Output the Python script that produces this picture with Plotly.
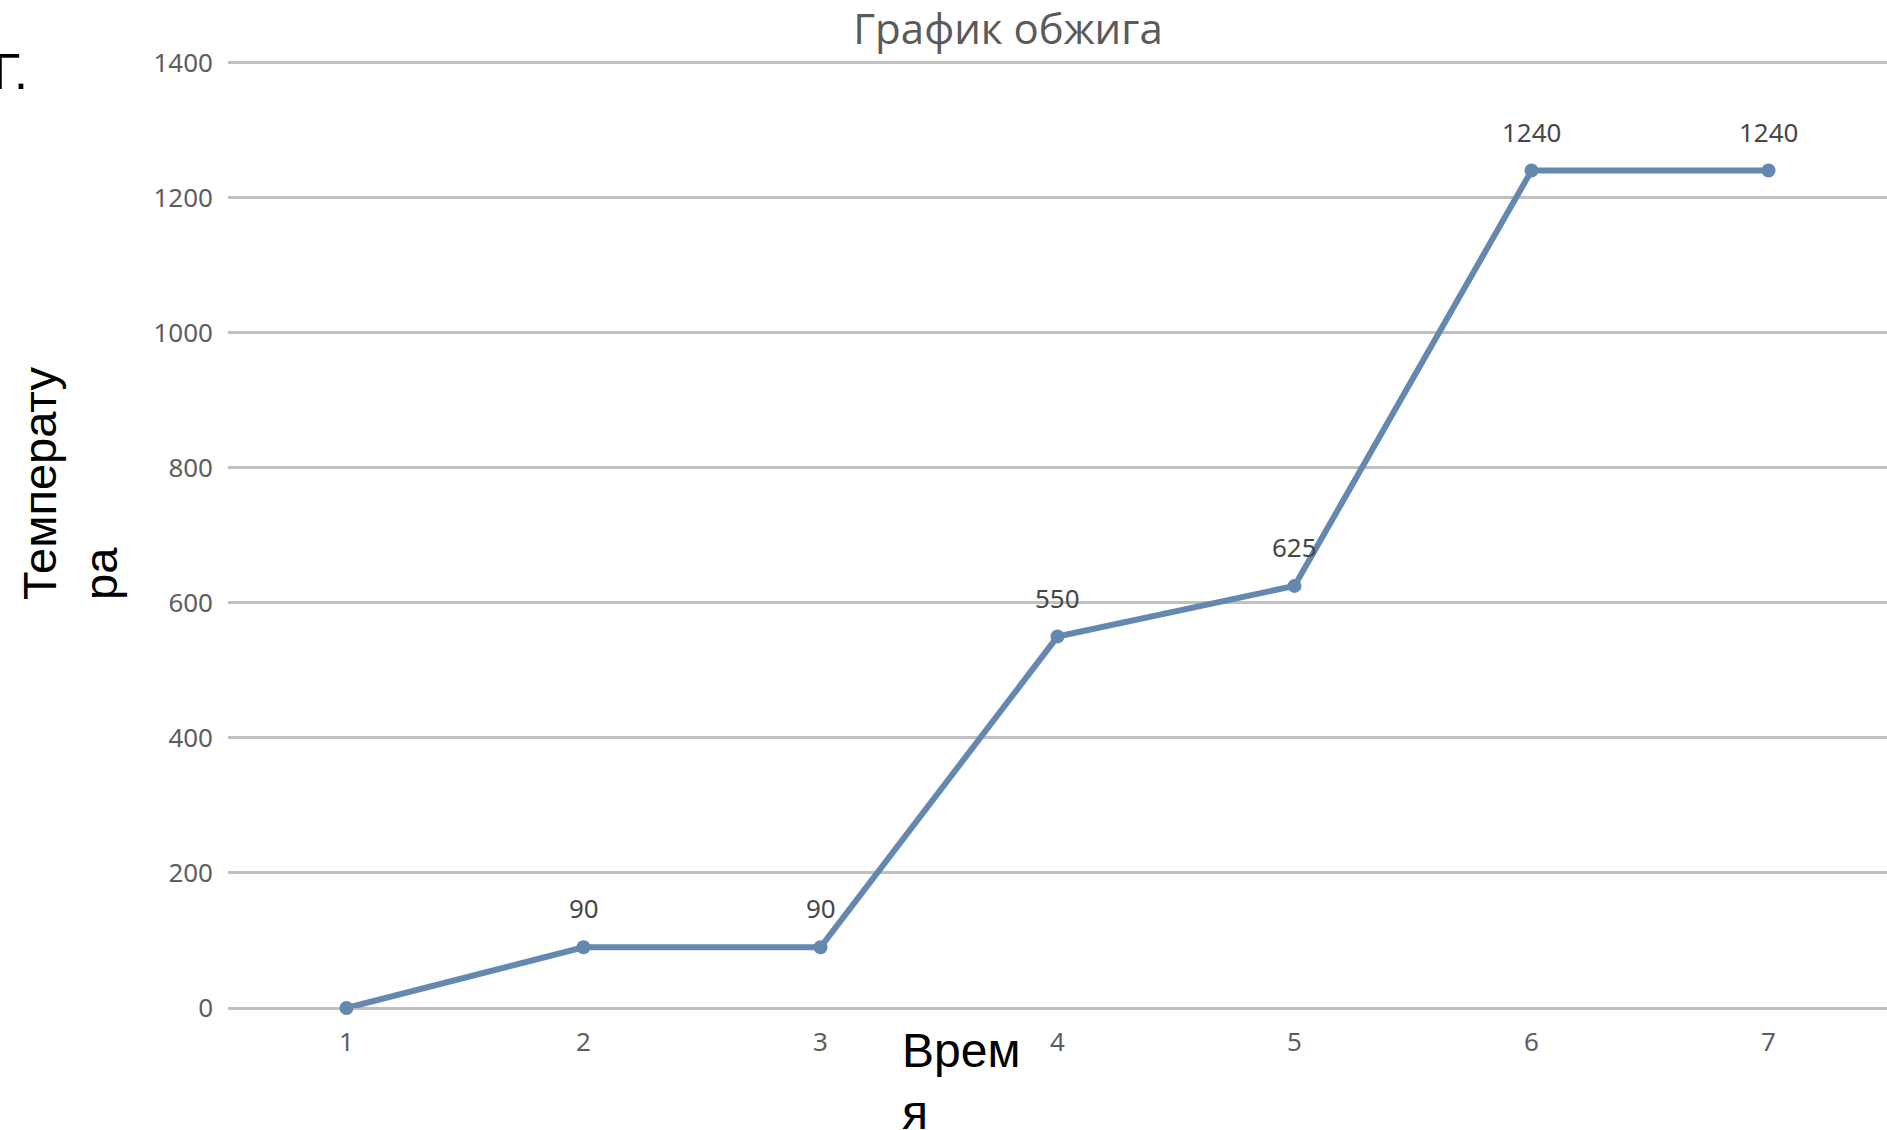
import plotly.graph_objects as go

# Firing schedule: time step vs kiln temperature
time_steps = [1, 2, 3, 4, 5, 6, 7]
temperatures = [0, 90, 90, 550, 625, 1240, 1240]
y_ticks = [0, 200, 400, 600, 800, 1000, 1200, 1400]

W, H = 1887, 1130
L, R, T, B = 228, 0, 49, 122
PW, PH = W - L - R, H - T - B
Y_TOP = 1420  # a little headroom so the 1400 gridline is drawn


def px_x(x):
    return (x - L) / PW


def px_y(y):
    return (H - B - y) / PH


LINE_BLUE = "#6488B0"
GRID = "#C0C0C0"
TICK_FONT = dict(family="Noto Sans", size=26, color="#5E5E5E")

fig = go.Figure()
fig.add_trace(go.Scatter(
    x=time_steps, y=temperatures, mode="lines+markers",
    line=dict(color=LINE_BLUE, width=6),
    marker=dict(size=14, color=LINE_BLUE),
    cliponaxis=False, showlegend=False, hoverinfo="x+y",
))

# value labels above each point
for x, y in zip(time_steps[1:], temperatures[1:]):
    fig.add_annotation(
        x=x, y=y, text=str(y), showarrow=False, yshift=39,
        font=dict(family="Noto Sans", size=26, color="#474747"),
    )

# axis titles (wrapped as in the worksheet)
fig.add_annotation(
    xref="paper", yref="paper", x=px_x(70), y=px_y(484),
    text="Температу<br>ра", textangle=-90, showarrow=False, align="left",
    xanchor="center", yanchor="middle",
    font=dict(family="Liberation Sans", size=47, color="#000000"),
)
fig.add_annotation(
    xref="paper", yref="paper", x=px_x(900), y=px_y(1022),
    text="Врем<br>я", showarrow=False, align="left",
    xanchor="left", yanchor="top",
    font=dict(family="Liberation Sans", size=48, color="#000000"),
)
fig.add_annotation(
    xref="paper", yref="paper", x=px_x(-9), y=px_y(42),
    text="Г.", showarrow=False, align="left",
    xanchor="left", yanchor="top",
    font=dict(family="Liberation Sans", size=50, color="#000000"),
)

fig.update_layout(
    width=W, height=H,
    margin=dict(l=L, r=R, t=T, b=B),
    paper_bgcolor="white", plot_bgcolor="white",
    title=dict(
        text="График обжига", xref="container", yref="container",
        x=1008 / W, y=1 - 29 / H, xanchor="center", yanchor="middle",
        font=dict(family="Open Sans", size=42, color="#5A5A5A"),
    ),
    xaxis=dict(
        range=[0.5, 7.5], tickvals=time_steps, ticktext=[str(t) for t in time_steps],
        showgrid=False, zeroline=False, showline=False, ticks="",
        tickfont=TICK_FONT, ticklabelstandoff=16,
    ),
    yaxis=dict(
        range=[0, Y_TOP], tickvals=y_ticks, ticktext=[str(t) for t in y_ticks],
        showgrid=True, gridcolor=GRID, gridwidth=3,
        zeroline=True, zerolinecolor=GRID, zerolinewidth=3,
        showline=False, ticks="", tickfont=TICK_FONT, ticklabelstandoff=14,
    ),
)

fig.write_html("out.html")
